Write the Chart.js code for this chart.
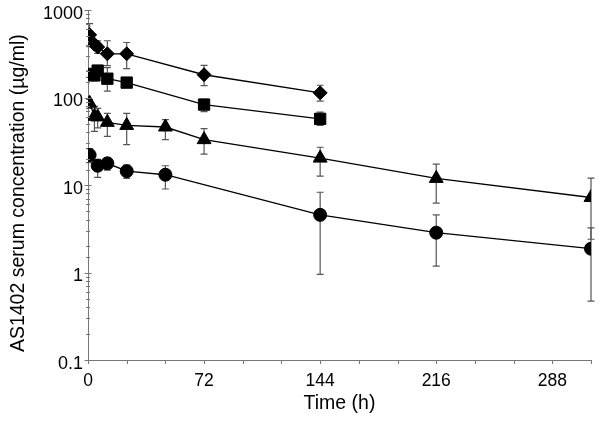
<!DOCTYPE html>
<html><head><meta charset="utf-8">
<script src="https://cdn.jsdelivr.net/npm/chart.js@4.4.1/dist/chart.umd.min.js"></script>
<style>html,body{margin:0;padding:0;background:#fff}</style>
</head><body>
<canvas id="c" width="600" height="431"></canvas>
<script>
// ---- data ----
const xMajorTicks = [0, 72, 144, 216, 288];
const yTickLabels = ['0.1', '1', '10', '100', '1000'];

const diamondTimes = [1, 4, 6, 12, 24, 72, 144];
const diamondMeans = [520, 407, 377, 316, 316, 182, 113];
const diamondHigh  = [700, 440, 445, 445, 425, 233, 138];
const diamondLow   = [380, 375, 320, 231, 214, 137, 91];

const squareTimes = [1, 4, 6, 12, 24, 72, 144];
const squareMeans = [186, 179, 203, 164, 148, 83, 57];
const squareHigh  = [200, 200, 225, 219, 169, 95, 68];
const squareLow   = [170, 155, 180, 118, 135, 69, 48];

const triangleTimes = [1, 4, 6, 12, 24, 48, 72, 144, 216, 312];
const triangleMeans = [86, 61, 60, 52, 48, 46, 33, 20.3, 11.9, 7.2];
const triangleHigh  = [95, 79, 75, 66, 66, 56, 44, 27, 17.3, 12];
const triangleLow   = [75, 41, 45, 36, 29, 33, 22.5, 12.6, 6.2, 2.4];

const circleTimes = [1, 6, 12, 24, 48, 144, 216, 312];
const circleMeans = [22, 16.6, 17.7, 14.4, 13.1, 4.56, 2.85, 1.87];
const circleHigh  = [26, 19.7, 19.7, 16.9, 16.6, 8.26, 4.56, 3.24];
const circleLow   = [18, 12.2, 14.8, 11.9, 9.0, 0.95, 1.18, 0.47];

// ---- build ----
function pts(t, m, hi, lo) {
  return t.map((x, i) => ({ x: x, y: m[i], hi: hi[i], lo: lo[i] }));
}
function ds(label, t, m, hi, lo, style, radius) {
  return {
    label, data: pts(t, m, hi, lo),
    borderColor: '#000', backgroundColor: '#000', borderWidth: 1.3,
    pointStyle: style, pointRadius: radius, pointHoverRadius: radius,
    pointBorderWidth: 1, pointBorderColor: '#000', tension: 0, showLine: true
  };
}

const isMajor = v => Math.abs(Math.log10(v) - Math.round(Math.log10(v))) < 1e-9;

const errorBars = {
  id: 'errorBars',
  beforeDatasetsDraw(chart) {
    const ctx = chart.ctx, xs = chart.scales.x, ys = chart.scales.y;
    ctx.save();
    ctx.strokeStyle = '#555';
    ctx.lineWidth = 1.2;
    chart.data.datasets.forEach(d => {
      d.data.forEach(p => {
        const px = xs.getPixelForValue(p.x);
        const yh = ys.getPixelForValue(p.hi);
        const yl = ys.getPixelForValue(p.lo);
        ctx.beginPath();
        ctx.moveTo(px, yh); ctx.lineTo(px, yl);
        ctx.moveTo(px - 3.5, yh); ctx.lineTo(px + 3.5, yh);
        ctx.moveTo(px - 3.5, yl); ctx.lineTo(px + 3.5, yl);
        ctx.stroke();
      });
    });
    ctx.restore();
  }
};

const FONT = "'Liberation Sans', Arial, sans-serif";

const tickMarks = {
  id: 'tickMarks',
  afterDraw(chart) {
    const ctx = chart.ctx, xs = chart.scales.x, ys = chart.scales.y, ca = chart.chartArea;
    ctx.save();
    ctx.strokeStyle = '#777';
    ctx.lineWidth = 1;
    ctx.beginPath();
    xs.ticks.forEach(t => {
      const px = Math.round(xs.getPixelForValue(t.value)) + 0.5;
      ctx.moveTo(px, ca.bottom); ctx.lineTo(px, ca.bottom + 4);
    });
    ys.ticks.forEach(t => {
      const py = Math.round(ys.getPixelForValue(t.value)) + 0.5;
      const h = isMajor(t.value) ? 3.5 : 2;
      ctx.moveTo(ca.left - h, py); ctx.lineTo(ca.left + h, py);
    });
    ctx.stroke();
    ctx.restore();
  }
};

new Chart(document.getElementById('c'), {
  type: 'line',
  data: {
    datasets: [
      ds('diamond', diamondTimes, diamondMeans, diamondHigh, diamondLow, 'rectRot', 7),
      ds('square', squareTimes, squareMeans, squareHigh, squareLow, 'rect', 8),
      ds('triangle', triangleTimes, triangleMeans, triangleHigh, triangleLow, 'triangle', 8),
      ds('circle', circleTimes, circleMeans, circleHigh, circleLow, 'circle', 6.5)
    ]
  },
  options: {
    responsive: false,
    animation: false,
    devicePixelRatio: 1,
    layout: { autoPadding: false, padding: { top: 10, right: 9, left: 0, bottom: 0 } },
    plugins: { legend: { display: false }, tooltip: { enabled: false } },
    scales: {
      x: {
        type: 'linear', min: 0, max: 312,
        afterFit(s) { s.height = 71; s.paddingLeft = 0; s.paddingRight = 0; },
        grid: { display: false, drawTicks: false },
        border: { display: true, color: '#777', width: 1 },
        ticks: {
          stepSize: 24, autoSkip: false, maxRotation: 0, padding: 11,
          color: '#000', font: { family: FONT, size: 17.5 },
          callback: v => xMajorTicks.includes(v) ? String(v) : ''
        },
        title: {
          display: true, text: 'Time (h)', color: '#000',
          font: { family: FONT, size: 19.5 }, padding: { top: 0, bottom: 16 }
        }
      },
      y: {
        type: 'logarithmic', min: 0.1, max: 1000,
        afterFit(s) { s.width = 88; s.paddingTop = 0; s.paddingBottom = 0; },
        grid: { display: false, drawTicks: false },
        border: { display: true, color: '#777', width: 1 },
        ticks: {
          autoSkip: false, padding: 5, labelOffset: 4, color: '#000',
          font: { family: FONT, size: 18 },
          callback: v => {
            if (!isMajor(v)) return '';
            const idx = Math.round(Math.log10(v)) + 1;
            return yTickLabels[idx];
          }
        },
        title: {
          display: true, text: 'AS1402 serum concentration (µg/ml)\u00a0\u00a0\u00a0', color: '#000',
          font: { family: FONT, size: 19.5 }, padding: { top: 7, bottom: 0 }
        }
      }
    }
  },
  plugins: [errorBars, tickMarks]
});
</script>
</body></html>
